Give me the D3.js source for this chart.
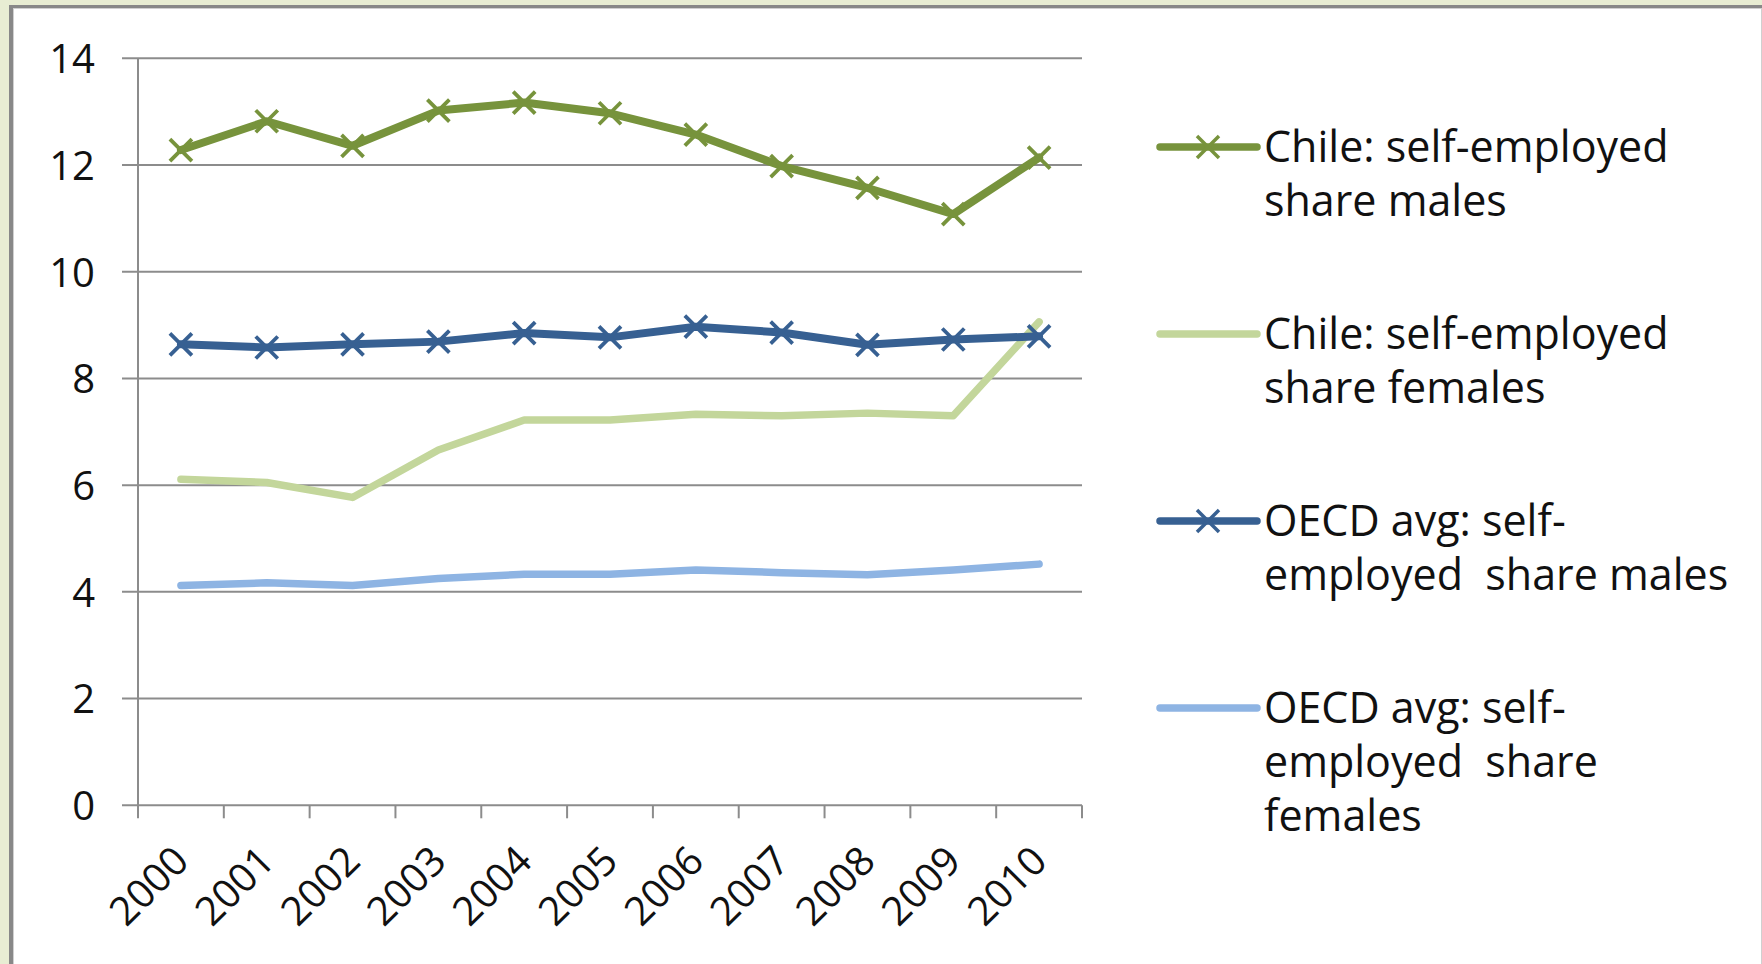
<!DOCTYPE html>
<html>
<head>
<meta charset="utf-8">
<script src="https://cdn.jsdelivr.net/npm/d3@7"></script>
<style>
  html, body { margin: 0; padding: 0; background: #e8edd3; overflow: hidden; }
  text { font-family: "Open Sans", "DejaVu Sans", sans-serif; fill: #111; }
</style>
</head>
<body>
<div id="chart-area"></div>
<script>
// data
var years = ["2000", "2001", "2002", "2003", "2004", "2005", "2006", "2007", "2008", "2009", "2010"];
var chileMales = [12.28, 12.82, 12.36, 13.02, 13.17, 12.97, 12.57, 11.98, 11.57, 11.08, 12.14];
var chileFemales = [6.11, 6.05, 5.77, 6.66, 7.22, 7.22, 7.33, 7.30, 7.35, 7.30, 9.06];
var oecdMales = [8.64, 8.58, 8.64, 8.69, 8.85, 8.77, 8.97, 8.86, 8.63, 8.73, 8.79];
var oecdFemales = [4.12, 4.17, 4.12, 4.25, 4.33, 4.33, 4.41, 4.36, 4.32, 4.41, 4.52];
var yTicks = [0, 2, 4, 6, 8, 10, 12, 14];
var seriesNames = [
	["Chile: self-employed", "share males"],
	["Chile: self-employed", "share females"],
	["OECD avg: self-", "employed  share males"],
	["OECD avg: self-", "employed  share", "females"]
];
var seriesColors = ["#77933c", "#c3d69b", "#376092", "#8eb4e3"];
var seriesMarkers = [true, false, true, false];
var seriesValues = [chileMales, chileFemales, oecdMales, oecdFemales];

var W = 1762, H = 964;
var margin = { left: 138, top: 58.3, right: W - 1082, bottom: H - 805.3 };
var width = W - margin.left - margin.right;
var height = H - margin.top - margin.bottom;

var svg = d3.select("#chart-area")
	.append("svg")
	.attr("width", W)
	.attr("height", H);

// chart frame
svg.append("rect")
	.attr("x", 9).attr("y", 5)
	.attr("width", W).attr("height", H)
	.attr("fill", "#888888");
svg.append("rect")
	.attr("x", 13).attr("y", 8)
	.attr("width", W).attr("height", H)
	.attr("fill", "#d0d0d0");
svg.append("rect")
	.attr("x", 14).attr("y", 9)
	.attr("width", W - 15).attr("height", H)
	.attr("fill", "#ffffff");

var g = svg.append("g")
	.attr("transform", "translate(" + margin.left + ", " + margin.top + ")");

// SCALES
var x = d3.scaleBand()
	.domain(years)
	.range([0, width])
	.paddingInner(0)
	.paddingOuter(0);
var y = d3.scaleLinear()
	.domain([0, 14])
	.range([height, 0]);

// gridlines
g.selectAll(".grid")
	.data(yTicks)
	.enter()
	.append("line")
	.attr("class", "grid")
	.attr("x1", -16)
	.attr("x2", width)
	.attr("y1", d => y(d))
	.attr("y2", d => y(d))
	.attr("stroke", "#8c8c8c")
	.attr("stroke-width", 2);

// Y Axis
var yAxisCall = d3.axisLeft(y)
	.tickValues(yTicks)
	.tickSize(0)
	.tickPadding(43);
var yAxis = g.append("g")
	.attr("class", "y-axis")
	.call(yAxisCall);
yAxis.select(".domain").remove();
yAxis.selectAll("text")
	.attr("font-size", "40px")
	.attr("font-family", null)
	.attr("dy", "0.36em");
g.append("line")
	.attr("x1", 0).attr("x2", 0)
	.attr("y1", 0).attr("y2", height)
	.attr("stroke", "#8c8c8c")
	.attr("stroke-width", 2);

// X Axis: ticks at category boundaries
var bounds = years.map(d => x(d)).concat([width]);
g.selectAll(".xtick")
	.data(bounds)
	.enter()
	.append("line")
	.attr("class", "xtick")
	.attr("x1", d => d).attr("x2", d => d)
	.attr("y1", height).attr("y2", height + 13)
	.attr("stroke", "#8c8c8c")
	.attr("stroke-width", 2);

g.selectAll(".xlabel")
	.data(years)
	.enter()
	.append("text")
	.attr("class", "xlabel")
	.attr("font-size", "40px")
	.attr("text-anchor", "end")
	.attr("transform", d => "translate(" + (x(d) + x.bandwidth() / 2 + 10) + "," + (height + 58) + ") rotate(-45)")
	.text(d => d);

// LINES
var line = d3.line()
	.x((d, i) => x(years[i]) + x.bandwidth() / 2)
	.y(d => y(d));

var cross = "M-11,-11L11,11M-11,11L11,-11";

seriesValues.forEach((values, s) => {
	g.append("path")
		.datum(values)
		.attr("fill", "none")
		.attr("stroke", seriesColors[s])
		.attr("stroke-width", seriesMarkers[s] ? 8 : 7.5)
		.attr("stroke-linejoin", "round")
		.attr("stroke-linecap", "round")
		.attr("d", line);
	if (seriesMarkers[s]) {
		g.selectAll(".marker" + s)
			.data(values)
			.enter()
			.append("path")
			.attr("class", "marker" + s)
			.attr("transform", (d, i) => "translate(" + (x(years[i]) + x.bandwidth() / 2) + "," + y(d) + ")")
			.attr("d", cross)
			.attr("stroke", seriesColors[s])
			.attr("stroke-width", 3.8)
			.attr("fill", "none");
	}
});

// LEGEND
var legendY = [147, 334, 521, 708];
var legend = svg.append("g");
seriesNames.forEach((lines, s) => {
	var row = legend.append("g")
		.attr("transform", "translate(1160, " + legendY[s] + ")");
	row.append("line")
		.attr("x1", 0).attr("x2", 97)
		.attr("y1", 0).attr("y2", 0)
		.attr("stroke", seriesColors[s])
		.attr("stroke-width", 7.5)
		.attr("stroke-linecap", "round");
	if (seriesMarkers[s]) {
		row.append("path")
			.attr("transform", "translate(48,0)")
			.attr("d", cross)
			.attr("stroke", seriesColors[s])
			.attr("stroke-width", 3.5)
			.attr("fill", "none");
	}
	var txt = row.append("text")
		.attr("x", 104)
		.attr("y", 15)
		.attr("font-size", "43px")
		.style("white-space", "pre");
	lines.forEach((l, i) => {
		txt.append("tspan")
			.attr("x", 104)
			.attr("dy", i === 0 ? 0 : 54)
			.text(l);
	});
});
</script>
</body>
</html>
